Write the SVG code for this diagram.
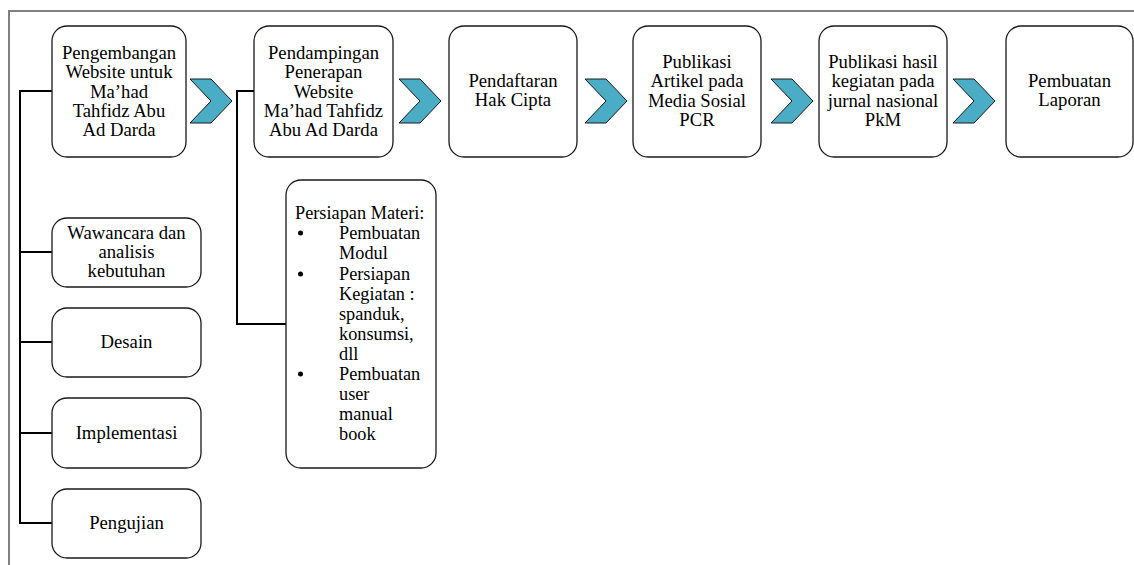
<svg xmlns="http://www.w3.org/2000/svg" width="1134" height="565" viewBox="0 0 1134 565">
<defs>
<style>
.box{fill:#fff;stroke:#1a1a1a;stroke-width:1.3}
.chev{fill:#4bacc6;stroke:#1a1a1a;stroke-width:1}
.t{font-family:"Liberation Serif",serif;font-size:18.7px;fill:#000;text-anchor:middle}
.tl{font-family:"Liberation Serif",serif;font-size:18.3px;fill:#000}
.con{fill:none;stroke:#000;stroke-width:2}
</style>
</defs>
<rect x="0" y="0" width="1134" height="565" fill="#fff"/>
<path d="M9,565 V11 H1134" fill="none" stroke="#808080" stroke-width="2"/>
<g id="connectors">
<path class="con" d="M52,91 H20 V523 H52 M20,252 H52 M20,342 H52 M20,433 H52"/>
<path class="con" d="M254,91 H237 V324 H286"/>
</g>
<g id="chevrons">
<polygon class="chev" points="190,79 211,79 232,101 211,123 190,123 211,101"/>
<polygon class="chev" points="399,79 420,79 441,101 420,123 399,123 420,101"/>
<polygon class="chev" points="585,79 606,79 627,101 606,123 585,123 606,101"/>
<polygon class="chev" points="771,79 792,79 813,101 792,123 771,123 792,101"/>
<polygon class="chev" points="953,79 974,79 995,101 974,123 953,123 974,101"/>
</g>
<g id="n1">
<rect class="box" x="52" y="26" width="134" height="131" rx="15"/>
<text class="t" x="119" y="59">Pengembangan</text>
<text class="t" x="119" y="78.3">Website untuk</text>
<text class="t" x="119" y="97.6">Ma’had</text>
<text class="t" x="119" y="116.9">Tahfidz Abu</text>
<text class="t" x="119" y="136.2">Ad Darda</text>
</g>
<g id="n2">
<rect class="box" x="254" y="26" width="139" height="131" rx="15"/>
<text class="t" x="323.5" y="59">Pendampingan</text>
<text class="t" x="323.5" y="78.3">Penerapan</text>
<text class="t" x="323.5" y="97.6">Website</text>
<text class="t" x="323.5" y="116.9">Ma’had Tahfidz</text>
<text class="t" x="323.5" y="136.2">Abu Ad Darda</text>
</g>
<g id="n3">
<rect class="box" x="449" y="26" width="128" height="131" rx="15"/>
<text class="t" x="513" y="87">Pendaftaran</text>
<text class="t" x="513" y="106.3">Hak Cipta</text>
</g>
<g id="n4">
<rect class="box" x="633" y="26" width="128" height="131" rx="15"/>
<text class="t" x="697" y="68">Publikasi</text>
<text class="t" x="697" y="87.3">Artikel pada</text>
<text class="t" x="697" y="106.6">Media Sosial</text>
<text class="t" x="697" y="126">PCR</text>
</g>
<g id="n5">
<rect class="box" x="819" y="26" width="128" height="131" rx="15"/>
<text class="t" x="883" y="68">Publikasi hasil</text>
<text class="t" x="883" y="87.3">kegiatan pada</text>
<text class="t" x="883" y="106.6">jurnal nasional</text>
<text class="t" x="883" y="126">PkM</text>
</g>
<g id="n6">
<rect class="box" x="1006" y="26" width="127" height="131" rx="15"/>
<text class="t" x="1069.5" y="87">Pembuatan</text>
<text class="t" x="1069.5" y="106.3">Laporan</text>
</g>
<g id="n7">
<rect class="box" x="52" y="218" width="149" height="69" rx="15"/>
<text class="t" x="126.5" y="239">Wawancara dan</text>
<text class="t" x="126.5" y="258">analisis</text>
<text class="t" x="126.5" y="277">kebutuhan</text>
</g>
<g id="n8">
<rect class="box" x="52" y="308" width="149" height="69" rx="15"/>
<text class="t" x="126.5" y="348">Desain</text>
</g>
<g id="n9">
<rect class="box" x="52" y="398" width="149" height="70" rx="15"/>
<text class="t" x="126.5" y="439">Implementasi</text>
</g>
<g id="n10">
<rect class="box" x="52" y="489" width="149" height="69" rx="15"/>
<text class="t" x="126.5" y="529">Pengujian</text>
</g>
<g id="n11">
<rect class="box" x="286" y="180" width="150" height="288" rx="15"/>
<text class="tl" x="295" y="219">Persiapan Materi:</text>
<circle cx="300.5" cy="233" r="2.5"/>
<circle cx="300.5" cy="274" r="2.5"/>
<circle cx="300.5" cy="374" r="2.5"/>
<text class="tl" x="339" y="239">Pembuatan</text>
<text class="tl" x="339" y="259">Modul</text>
<text class="tl" x="339" y="280">Persiapan</text>
<text class="tl" x="339" y="300">Kegiatan :</text>
<text class="tl" x="339" y="320">spanduk,</text>
<text class="tl" x="339" y="340">konsumsi,</text>
<text class="tl" x="339" y="360">dll</text>
<text class="tl" x="339" y="380">Pembuatan</text>
<text class="tl" x="339" y="400">user</text>
<text class="tl" x="339" y="420">manual</text>
<text class="tl" x="339" y="440">book</text>
</g>
</svg>
